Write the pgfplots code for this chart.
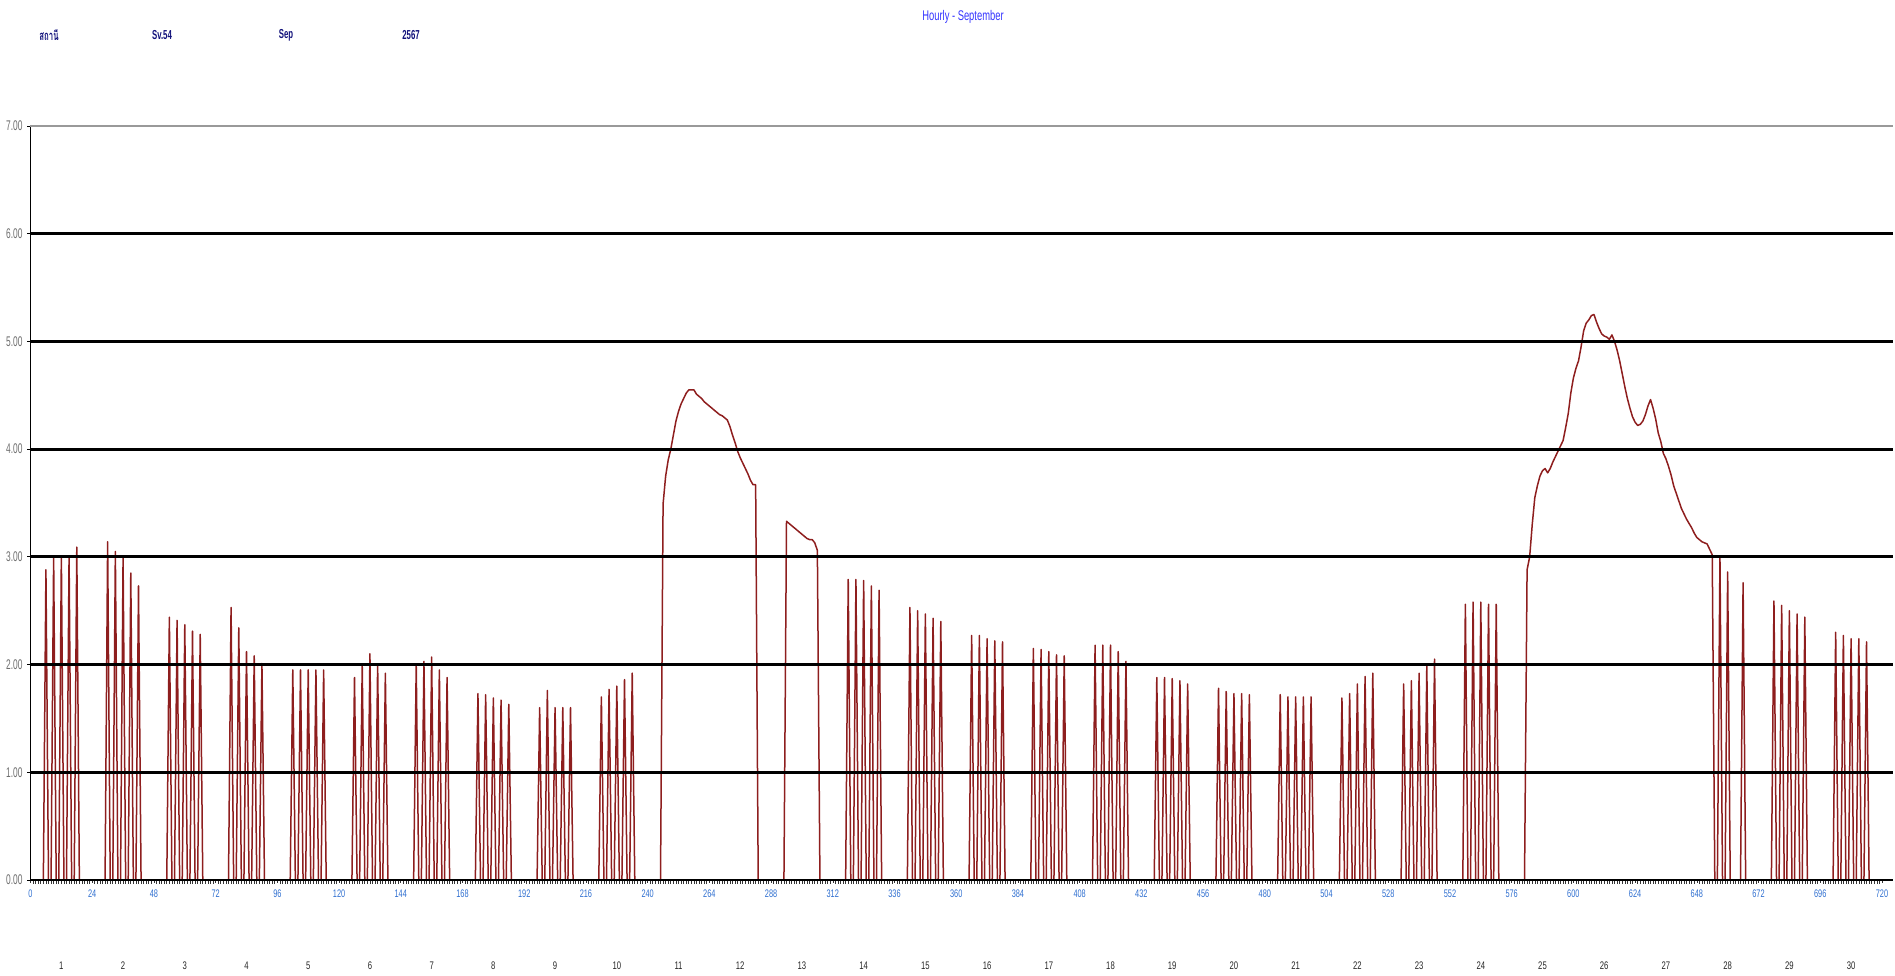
\documentclass[border=0pt]{standalone}
\usepackage{fontspec}
\setmainfont{Liberation Sans}
\newfontfamily\thaifont[Script=Thai]{Loma}
\usepackage{pgfplots}
\pgfplotsset{compat=1.18}
\definecolor{linered}{HTML}{8E1E1E}
\definecolor{hourblue}{HTML}{2F6FD0}
\definecolor{titleblue}{HTML}{3333FF}
\definecolor{navy}{HTML}{10107A}
\definecolor{ylab}{HTML}{6E6E6E}
\begin{document}
\begin{tikzpicture}[x=1pt,y=1pt]
\useasboundingbox (0,0) rectangle (947.5,487.5);
\node[titleblue,font=\fontsize{7}{8}\selectfont] at (481.5,479) {\scalebox{0.67}[1]{Hourly - September}};
\node[navy,font=\bfseries\fontsize{6.5}{7}\selectfont] at (24.5,470) {\scalebox{0.6}[1]{\thaifont สถานี}};
\node[navy,font=\bfseries\fontsize{6.5}{7}\selectfont] at (81,470) {\scalebox{0.6}[1]{Sv.54}};
\node[navy,font=\bfseries\fontsize{6.5}{7}\selectfont] at (143,470) {\scalebox{0.6}[1]{Sep}};
\node[navy,font=\bfseries\fontsize{6.5}{7}\selectfont] at (205.5,470) {\scalebox{0.6}[1]{2567}};
\begin{axis}[
  at={(15.25pt,47.5pt)}, anchor=south west,
  scale only axis, width=931.25pt, height=377pt,
  xmin=0, xmax=724.3, ymin=0, ymax=7,
  axis on top,
  axis x line*=bottom, axis y line*=left,
  axis line style={-, black, line width=0.6pt},
  /pgf/number format/assume math mode=true,
  ytick={0,1,2,3,4,5,6},
  ymajorgrids,
  major grid style={black, line width=1.4pt},
  extra y ticks={7},
  extra y tick style={grid=major, major grid style={gray!80, line width=1.4pt}},
  yticklabel={\scalebox{0.6}[1]{\pgfmathprintnumber[fixed,fixed zerofill,precision=2]{\tick}}},
  yticklabel style={font=\fontsize{7}{8}\selectfont, ylab, xshift=1pt},
  ytick style={black, line width=0.4pt},
  major tick length=1.5pt,
  tick align=outside,
  xtick={0,24,...,720},
  xticklabel={\scalebox{0.67}[1]{\pgfmathprintnumber{\tick}}},
  xticklabel style={font=\fontsize{5.5}{6}\selectfont, hourblue},
  minor x tick num=23,
  minor tick length=2pt,
  xtick style={black!80, line width=0.3pt},
  extra x ticks={12,36,60,84,108,132,156,180,204,228,252,276,300,324,348,372,396,420,444,468,492,516,540,564,588,612,636,660,684,708},
  extra x tick labels={\scalebox{0.7}[1]{1},\scalebox{0.7}[1]{2},\scalebox{0.7}[1]{3},\scalebox{0.7}[1]{4},\scalebox{0.7}[1]{5},\scalebox{0.7}[1]{6},\scalebox{0.7}[1]{7},\scalebox{0.7}[1]{8},\scalebox{0.7}[1]{9},\scalebox{0.7}[1]{10},\scalebox{0.7}[1]{11},\scalebox{0.7}[1]{12},\scalebox{0.7}[1]{13},\scalebox{0.7}[1]{14},\scalebox{0.7}[1]{15},\scalebox{0.7}[1]{16},\scalebox{0.7}[1]{17},\scalebox{0.7}[1]{18},\scalebox{0.7}[1]{19},\scalebox{0.7}[1]{20},\scalebox{0.7}[1]{21},\scalebox{0.7}[1]{22},\scalebox{0.7}[1]{23},\scalebox{0.7}[1]{24},\scalebox{0.7}[1]{25},\scalebox{0.7}[1]{26},\scalebox{0.7}[1]{27},\scalebox{0.7}[1]{28},\scalebox{0.7}[1]{29},\scalebox{0.7}[1]{30}},
  extra x tick style={major tick length=0pt, grid=none, xticklabel style={font=\fontsize{5.5}{6}\selectfont, black!85, yshift=-37.5pt}},
  clip=false,
]
\addplot[linered, line width=0.75pt, line join=round] coordinates {
(0,0)
(5,0)(6,2.88)(7,0)(8,0)(9,3.00)(10,0)(11,0)(12,3.01)(13,0)(14,0)(15,3.01)(16,0)(17,0)(18,3.09)(19,0)
(29,0)(30,3.14)(31,0)(32,0)(33,3.05)(34,0)(35,0)(36,2.99)(37,0)(38,0)(39,2.85)(40,0)(41,0)(42,2.73)(43,0)
(53,0)(54,2.44)(55,0)(56,0)(57,2.41)(58,0)(59,0)(60,2.37)(61,0)(62,0)(63,2.31)(64,0)(65,0)(66,2.28)(67,0)
(77,0)(78,2.53)(79,0)(80,0)(81,2.34)(82,0)(83,0)(84,2.12)(85,0)(86,0)(87,2.08)(88,0)(89,0)(90,2.01)(91,0)
(101,0)(102,1.95)(103,0)(104,0)(105,1.95)(106,0)(107,0)(108,1.95)(109,0)(110,0)(111,1.95)(112,0)(113,0)(114,1.95)(115,0)
(125,0)(126,1.88)(127,0)(128,0)(129,2.00)(130,0)(131,0)(132,2.10)(133,0)(134,0)(135,2.00)(136,0)(137,0)(138,1.92)(139,0)
(149,0)(150,2.00)(151,0)(152,0)(153,2.03)(154,0)(155,0)(156,2.07)(157,0)(158,0)(159,1.95)(160,0)(161,0)(162,1.88)(163,0)
(173,0)(174,1.73)(175,0)(176,0)(177,1.72)(178,0)(179,0)(180,1.69)(181,0)(182,0)(183,1.67)(184,0)(185,0)(186,1.63)(187,0)
(197,0)(198,1.60)(199,0)(200,0)(201,1.76)(202,0)(203,0)(204,1.60)(205,0)(206,0)(207,1.60)(208,0)(209,0)(210,1.60)(211,0)
(221,0)(222,1.70)(223,0)(224,0)(225,1.77)(226,0)(227,0)(228,1.80)(229,0)(230,0)(231,1.86)(232,0)(233,0)(234,1.92)(235,0)
(245,0)(246,3.49)(247,3.75)(248,3.90)(249,4.00)(250,4.13)(251,4.26)(252,4.35)(253,4.42)(254,4.47)(255,4.52)(256,4.55)(257,4.55)(258,4.55)(259,4.51)(260,4.49)(261,4.47)(262,4.44)(263,4.42)(264,4.40)(265,4.38)(266,4.36)(267,4.34)(268,4.32)(269,4.31)(270,4.29)(271,4.27)(272,4.21)(273,4.13)(274,4.06)(275,3.98)(276,3.92)(277,3.87)(278,3.82)(279,3.77)(280,3.71)(281,3.67)(282,3.67)(283,0)
(293,0)(294,3.33)(295,3.31)(296,3.29)(297,3.27)(298,3.25)(299,3.23)(300,3.21)(301,3.19)(302,3.17)(303,3.16)(304,3.16)(305,3.13)(306,3.06)(307,0)
(317,0)(318,2.79)(319,0)(320,0)(321,2.79)(322,0)(323,0)(324,2.78)(325,0)(326,0)(327,2.73)(328,0)(329,0)(330,2.69)(331,0)
(341,0)(342,2.53)(343,0)(344,0)(345,2.50)(346,0)(347,0)(348,2.47)(349,0)(350,0)(351,2.43)(352,0)(353,0)(354,2.40)(355,0)
(365,0)(366,2.27)(367,0)(368,0)(369,2.27)(370,0)(371,0)(372,2.24)(373,0)(374,0)(375,2.22)(376,0)(377,0)(378,2.21)(379,0)
(389,0)(390,2.15)(391,0)(392,0)(393,2.14)(394,0)(395,0)(396,2.12)(397,0)(398,0)(399,2.09)(400,0)(401,0)(402,2.08)(403,0)
(413,0)(414,2.18)(415,0)(416,0)(417,2.18)(418,0)(419,0)(420,2.18)(421,0)(422,0)(423,2.12)(424,0)(425,0)(426,2.03)(427,0)
(437,0)(438,1.88)(439,0)(440,0)(441,1.88)(442,0)(443,0)(444,1.87)(445,0)(446,0)(447,1.85)(448,0)(449,0)(450,1.82)(451,0)
(461,0)(462,1.78)(463,0)(464,0)(465,1.75)(466,0)(467,0)(468,1.73)(469,0)(470,0)(471,1.73)(472,0)(473,0)(474,1.72)(475,0)
(485,0)(486,1.72)(487,0)(488,0)(489,1.70)(490,0)(491,0)(492,1.70)(493,0)(494,0)(495,1.70)(496,0)(497,0)(498,1.70)(499,0)
(509,0)(510,1.69)(511,0)(512,0)(513,1.73)(514,0)(515,0)(516,1.82)(517,0)(518,0)(519,1.89)(520,0)(521,0)(522,1.92)(523,0)
(533,0)(534,1.82)(535,0)(536,0)(537,1.85)(538,0)(539,0)(540,1.92)(541,0)(542,0)(543,1.99)(544,0)(545,0)(546,2.05)(547,0)
(557,0)(558,2.56)(559,0)(560,0)(561,2.58)(562,0)(563,0)(564,2.58)(565,0)(566,0)(567,2.56)(568,0)(569,0)(570,2.56)(571,0)
(581,0)(582,2.88)(583,3.00)(584,3.30)(585,3.55)(586,3.66)(587,3.75)(588,3.80)(589,3.82)(590,3.78)(591,3.82)(592,3.88)(593,3.93)(594,3.98)(595,4.03)(596,4.08)(597,4.20)(598,4.33)(599,4.52)(600,4.66)(601,4.75)(602,4.82)(603,4.95)(604,5.10)(605,5.17)(606,5.20)(607,5.24)(608,5.25)(609,5.18)(610,5.12)(611,5.07)(612,5.05)(613,5.04)(614,5.02)(615,5.06)(616,5.00)(617,4.92)(618,4.82)(619,4.70)(620,4.58)(621,4.47)(622,4.38)(623,4.30)(624,4.25)(625,4.22)(626,4.23)(627,4.26)(628,4.32)(629,4.40)(630,4.46)(631,4.38)(632,4.28)(633,4.15)(634,4.07)(635,3.96)(636,3.91)(637,3.84)(638,3.76)(639,3.66)(640,3.59)(641,3.52)(642,3.45)(643,3.40)(644,3.35)(645,3.31)(646,3.27)(647,3.22)(648,3.18)(649,3.16)(650,3.14)(651,3.13)(652,3.12)(653,3.07)(654,3.02)(655,0)
(656,0)(657,3.00)(658,0)(659,0)(660,2.86)(661,0)(665,0)(666,2.76)(667,0)
(677,0)(678,2.59)(679,0)(680,0)(681,2.55)(682,0)(683,0)(684,2.50)(685,0)(686,0)(687,2.47)(688,0)(689,0)(690,2.44)(691,0)
(701,0)(702,2.30)(703,0)(704,0)(705,2.27)(706,0)(707,0)(708,2.24)(709,0)(710,0)(711,2.24)(712,0)(713,0)(714,2.21)(715,0)(720,0)
};
\end{axis}
\end{tikzpicture}
\end{document}
